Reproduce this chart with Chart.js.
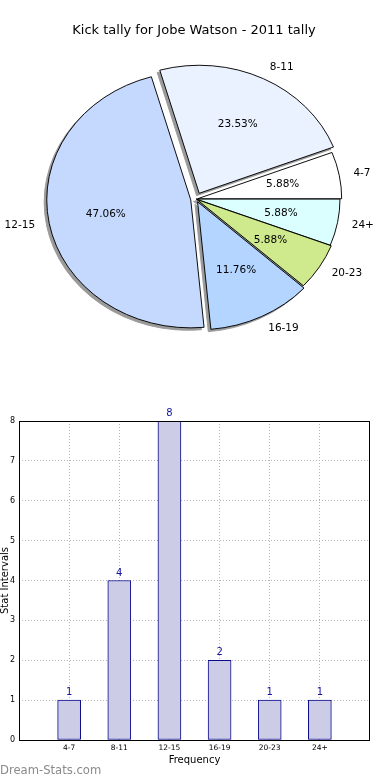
<!DOCTYPE html>
<html><head><meta charset="utf-8">
<script src="https://cdn.jsdelivr.net/npm/chart.js@4.4.1/dist/chart.umd.min.js"></script>
<style>
html,body{margin:0;padding:0;background:#fff;}
#wrap{position:relative;width:390px;height:780px;overflow:hidden;}
#pieBox{position:absolute;left:0;top:0;width:390px;height:400px;}
#barBox{position:absolute;left:0;top:400px;width:390px;height:380px;}
</style></head><body>
<div id="wrap"><div id="pieBox"><canvas id="pie"></canvas></div><div id="barBox"><canvas id="bar"></canvas></div></div>
<script>
const chartTitle = 'Kick tally for Jobe Watson - 2011 tally';
const categories = ['4-7','8-11','12-15','16-19','20-23','24+'];
const counts = [1,4,8,2,1,1];
const yTicks = [0,1,2,3,4,5,6,7,8];
const xAxisTitle = 'Frequency';
const yAxisTitle = 'Stat Intervals';
const watermark = 'Dream-Stats.com';

// styles
const sliceColors = ['#ffffff','#ebf2ff','#c5d9ff','#b4d5ff','#cfea8c','#dbffff'];
const explode = [0.012,0.05,0.037,0.025,0.008,0];
const FONT = "'DejaVu Sans', sans-serif";
const Y_SCALE = 128/144;
const SHADOW = '#9a9a9a';

Chart.defaults.font.family = FONT;
Chart.defaults.animation = false;

const total = counts.reduce((a,b)=>a+b,0);
// Chart.js draws clockwise; matplotlib counter-clockwise from 3 o'clock -> reverse order
const pieLabels = categories.slice().reverse();
const pieValues = counts.slice().reverse();
const pieColors = sliceColors.slice().reverse();
const pieExplode = explode.slice().reverse();

function ellipseTransform(ctx, arc){
  ctx.translate(arc.x, arc.y); ctx.scale(1, Y_SCALE); ctx.translate(-arc.x, -arc.y);
}

const piePlugin = {
  id:'piePlugin',
  beforeDatasetsDraw(chart){
    const ctx = chart.ctx; const meta = chart.getDatasetMeta(0);
    meta.data.forEach((arc,i)=>{
      const mid = (arc.startAngle+arc.endAngle)/2; const sh = pieExplode[i]*arc.outerRadius;
      ctx.save();
      ctx.translate(-2.6, 2.4);
      ellipseTransform(ctx, arc);
      ctx.translate(Math.cos(mid)*sh, Math.sin(mid)*sh);
      const saved = arc.options;
      arc.options = Object.assign({}, saved, {backgroundColor:SHADOW, borderColor:SHADOW});
      arc.draw(ctx);
      arc.options = saved;
      ctx.restore();
    });
    meta.data.forEach((arc,i)=>{
      const mid = (arc.startAngle+arc.endAngle)/2; const sh = pieExplode[i]*arc.outerRadius;
      ctx.save();
      ellipseTransform(ctx, arc);
      ctx.translate(Math.cos(mid)*sh, Math.sin(mid)*sh);
      arc.draw(ctx);
      ctx.restore();
    });
    return false;
  },
  afterDraw(chart){
    const ctx = chart.ctx; const meta = chart.getDatasetMeta(0);
    ctx.save();
    ctx.fillStyle = '#000';
    ctx.font = "13px " + FONT;
    ctx.textAlign = 'center'; ctx.textBaseline = 'alphabetic';
    ctx.fillText(chartTitle, 194, 34);
    ctx.font = "10.5px " + FONT;
    ctx.textBaseline = 'middle';
    meta.data.forEach((arc,i)=>{
      const mid = (arc.startAngle+arc.endAngle)/2; const r = arc.outerRadius;
      const sh = pieExplode[i]*r; const c = Math.cos(mid), s = Math.sin(mid);
      const lx = arc.x + c*(sh+1.1*r), ly = arc.y + Y_SCALE*s*(sh+1.1*r);
      ctx.textAlign = c >= 0 ? 'left' : 'right';
      ctx.fillText(pieLabels[i], lx, ly);
      const px = arc.x + c*(sh+0.6*r), py = arc.y + Y_SCALE*s*(sh+0.6*r);
      ctx.textAlign = 'center';
      ctx.fillText((pieValues[i]/total*100).toFixed(2)+'%', px, py);
    });
    ctx.restore();
  }
};

new Chart(document.getElementById('pie'), {
  type:'pie',
  data:{labels:pieLabels, datasets:[{data:pieValues, backgroundColor:pieColors, borderColor:'#000', borderWidth:1}]},
  options:{
    responsive:true, maintainAspectRatio:false, events:[],
    rotation:90, radius:144,
    layout:{padding:{left:2,right:0,top:0,bottom:2}},
    plugins:{legend:{display:false}, tooltip:{enabled:false}, title:{display:false}}
  },
  plugins:[piePlugin]
});

const barPlugin = {
  id:'barPlugin',
  afterDraw(chart){
    const ctx = chart.ctx; const a = chart.chartArea; const meta = chart.getDatasetMeta(0);
    ctx.save();
    ctx.strokeStyle = '#000'; ctx.lineWidth = 1;
    ctx.strokeRect(Math.round(a.left)+0.5, Math.round(a.top)+0.5, Math.round(a.right-a.left)-1, Math.round(a.bottom-a.top));
    ctx.fillStyle = '#1414a0';
    ctx.font = "10px " + FONT; ctx.textAlign='center'; ctx.textBaseline='alphabetic';
    meta.data.forEach((bar,i)=>{ ctx.fillText(String(counts[i]), bar.x, bar.y-5); });
    ctx.fillStyle = '#8a8a8a'; ctx.font = "11.6px " + FONT; ctx.textAlign='left';
    ctx.fillText(watermark, 0, 374);
    ctx.restore();
  }
};

new Chart(document.getElementById('bar'), {
  type:'bar',
  data:{datasets:[{data:counts.map((v,i)=>({x:i+1,y:v})), backgroundColor:'#ccccE6', borderColor:'#0a0a8a', borderWidth:1, borderSkipped:false, barThickness:23}]},
  options:{
    responsive:true, maintainAspectRatio:false, events:[],
    layout:{padding:{left:0,right:20,top:21,bottom:12}},
    plugins:{legend:{display:false}, tooltip:{enabled:false}},
    scales:{
      x:{type:'linear', min:0, max:7, z:1, offset:false,
        afterBuildTicks:s=>{ s.ticks = categories.map((c,i)=>({value:i+1})); },
        afterFit:s=>{ s.height = 28; },
        ticks:{callback:v=>categories[v-1] ?? '', font:{size:7.5}, color:'#000', padding:4, maxRotation:0, autoSkip:false},
        grid:{color:'#b4b4b4', lineWidth:1, drawTicks:false, offset:false},
        border:{display:false, dash:[1,2]},
        title:{display:true, text:xAxisTitle, font:{size:10, lineHeight:1.2}, color:'#000', padding:{top:0,bottom:2}}
      },
      y:{min:0, max:8, z:1,
        afterBuildTicks:s=>{ s.ticks = yTicks.map(v=>({value:v})); },
        afterFit:s=>{ s.width = 19; },
        ticks:{font:{size:8}, color:'#000', padding:4},
        grid:{color:'#b4b4b4', lineWidth:1, drawTicks:false},
        border:{display:false, dash:[1,2]},
        title:{display:true, text:yAxisTitle, font:{size:10, lineHeight:1}, color:'#000', padding:{top:0,bottom:0}}
      }
    }
  },
  plugins:[barPlugin]
});
</script>
</body></html>
